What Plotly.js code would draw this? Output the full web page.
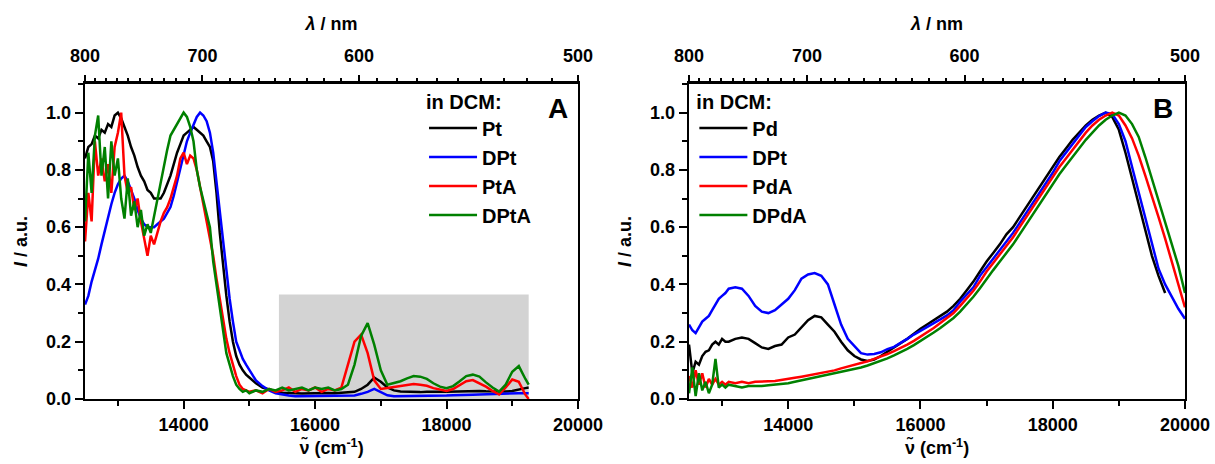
<!DOCTYPE html>
<html>
<head>
<meta charset="utf-8">
<script src="https://cdn.plot.ly/plotly-3.0.1.min.js"></script>
<style>html,body{margin:0;padding:0;background:#fff;}#chart{width:1215px;height:464px;}</style>
</head>
<body>
<div id="chart"></div>
<script>
// ---------- Panel A: wavenumber grid (cm-1) ----------
const waveA = [12500,12550,12600,12650,12700,12750,12800,12850,12900,12950,13000,
  13050,13100,13150,13200,13250,13300,13350,13400,13450,13500,
  13550,13600,13650,13700,13750,13800,13850,13900,13950,14000,
  14050,14100,14150,14200,14250,14300,14350,14400,14450,14500,
  14550,14600,14650,14700,14750,14800,14850,14900,14950,15000,
  15100,15200,15300,15400,15500,15600,15700,15800,15900,16000,
  16100,16200,16300,16400,16500,16600,16700,16800,16900,17000,
  17100,17200,17300,17400,17500,17600,17700,17800,17900,18000,
  18100,18200,18300,18400,18500,18600,18700,18800,18900,19000,
  19100,19200,19250];

const Pt_A = [0.84,0.88,0.89,0.92,0.91,0.94,0.93,0.96,0.95,0.99,1.00,
  0.98,0.95,0.92,0.88,0.85,0.81,0.78,0.76,0.73,0.72,
  0.70,0.70,0.70,0.72,0.75,0.78,0.82,0.86,0.89,0.92,
  0.93,0.94,0.95,0.94,0.93,0.92,0.90,0.88,0.83,0.72,
  0.58,0.46,0.36,0.27,0.20,0.15,0.12,0.10,0.085,0.075,
  0.055,0.04,0.032,0.026,0.022,0.02,0.02,0.019,0.02,0.02,
  0.02,0.021,0.02,0.022,0.022,0.025,0.035,0.05,0.075,0.06,
  0.04,0.03,0.026,0.025,0.024,0.024,0.025,0.024,0.025,0.025,
  0.026,0.026,0.027,0.028,0.028,0.027,0.026,0.025,0.026,0.028,
  0.034,0.038,0.04];

const DPt_A = [0.33,0.36,0.41,0.45,0.49,0.54,0.59,0.63,0.68,0.72,0.75,
  0.77,0.78,0.76,0.73,0.70,0.66,0.63,0.61,0.60,0.60,
  0.60,0.61,0.62,0.63,0.65,0.67,0.71,0.76,0.81,0.86,
  0.90,0.93,0.96,0.985,1.00,0.99,0.97,0.93,0.86,0.76,
  0.64,0.55,0.45,0.35,0.27,0.20,0.17,0.14,0.12,0.10,
  0.065,0.045,0.03,0.02,0.015,0.012,0.01,0.01,0.01,0.01,
  0.01,0.01,0.01,0.01,0.01,0.012,0.018,0.025,0.035,0.025,
  0.013,0.01,0.01,0.01,0.01,0.01,0.01,0.01,0.012,0.012,
  0.013,0.013,0.014,0.015,0.016,0.017,0.017,0.018,0.018,0.019,
  0.02,0.02,0.02];

const PtA_A = [0.55,0.72,0.62,0.90,0.78,0.84,0.76,0.82,0.72,0.88,0.93,
  1.00,0.78,0.72,0.74,0.66,0.70,0.62,0.56,0.50,0.57,
  0.54,0.58,0.62,0.65,0.67,0.70,0.74,0.78,0.84,0.86,
  0.82,0.85,0.84,0.80,0.74,0.68,0.63,0.56,0.50,0.42,
  0.35,0.28,0.21,0.16,0.12,0.08,0.05,0.035,0.03,0.025,
  0.03,0.02,0.035,0.025,0.03,0.04,0.025,0.035,0.03,0.04,
  0.025,0.035,0.03,0.04,0.12,0.20,0.225,0.16,0.065,0.035,
  0.038,0.042,0.046,0.05,0.052,0.05,0.046,0.038,0.032,0.028,
  0.035,0.048,0.062,0.066,0.055,0.043,0.028,0.016,0.04,0.068,
  0.06,0.015,0.0];

const DPtA_A = [0.62,0.86,0.72,0.92,0.99,0.78,0.88,0.70,0.90,0.78,0.84,
  0.70,0.63,0.77,0.64,0.69,0.60,0.66,0.57,0.61,0.58,
  0.64,0.70,0.75,0.81,0.87,0.92,0.94,0.96,0.975,1.00,
  0.985,0.95,0.90,0.80,0.74,0.69,0.65,0.60,0.48,0.40,
  0.33,0.25,0.16,0.12,0.08,0.05,0.035,0.025,0.03,0.02,
  0.03,0.025,0.035,0.03,0.04,0.03,0.035,0.04,0.03,0.04,
  0.035,0.04,0.03,0.035,0.05,0.12,0.22,0.265,0.19,0.10,
  0.05,0.055,0.062,0.072,0.08,0.078,0.07,0.055,0.043,0.038,
  0.045,0.062,0.08,0.085,0.078,0.058,0.04,0.026,0.05,0.095,
  0.115,0.07,0.05];

// ---------- Panel B ----------
const waveB = [12500,12550,12600,12650,12700,12750,12800,12850,12900,12950,13000,13050,13100,
  13200,13300,13400,13500,13600,13700,13800,13900,14000,
  14100,14200,14300,14400,14500,14600,14700,14800,14900,15000,
  15100,15200,15300,15400,15500,15600,15700,15800,15900,16000,
  16100,16200,16300,16400,16500,16600,16700,16800,16900,17000,
  17100,17200,17300,17400,17500,17600,17700,17800,17900,18000,
  18100,18200,18300,18400,18500,18600,18700,18800,18900,19000,
  19100,19200,19300,19400,19500,19600,19700,19800,19900,20000];

const Pd_B = [0.19,0.09,0.13,0.12,0.15,0.165,0.17,0.19,0.20,0.19,0.21,0.20,0.20,
  0.21,0.215,0.21,0.195,0.18,0.175,0.185,0.19,0.215,
  0.225,0.25,0.275,0.29,0.285,0.26,0.235,0.20,0.17,0.15,
  0.138,0.133,0.138,0.15,0.164,0.178,0.195,0.21,0.228,0.245,
  0.26,0.275,0.29,0.305,0.325,0.35,0.38,0.41,0.445,0.48,
  0.51,0.54,0.575,0.60,0.635,0.67,0.705,0.74,0.775,0.81,
  0.845,0.875,0.905,0.93,0.955,0.975,0.99,1.0,0.985,0.94,
  0.86,0.77,0.68,0.585,0.50,0.43,0.37];

const DPt_B = [0.26,0.24,0.23,0.25,0.27,0.28,0.29,0.31,0.33,0.35,0.36,0.37,0.385,
  0.39,0.385,0.36,0.325,0.305,0.30,0.31,0.33,0.35,
  0.38,0.42,0.435,0.44,0.43,0.40,0.33,0.26,0.21,0.185,
  0.16,0.155,0.157,0.163,0.174,0.182,0.195,0.21,0.225,0.238,
  0.25,0.262,0.278,0.292,0.31,0.34,0.365,0.39,0.43,0.46,
  0.49,0.52,0.55,0.58,0.615,0.65,0.685,0.72,0.755,0.79,
  0.83,0.86,0.89,0.92,0.95,0.97,0.988,1.0,0.995,0.96,
  0.90,0.81,0.72,0.625,0.535,0.455,0.40,0.355,0.315,0.28];

const PdA_B = [0.08,0.04,0.10,0.05,0.09,0.04,0.07,0.05,0.07,0.05,0.06,0.05,0.06,
  0.055,0.06,0.055,0.06,0.06,0.062,0.063,0.066,0.07,
  0.074,0.078,0.082,0.086,0.09,0.095,0.10,0.107,0.113,0.118,
  0.125,0.132,0.14,0.148,0.157,0.167,0.178,0.19,0.203,0.217,
  0.232,0.248,0.265,0.283,0.30,0.325,0.35,0.378,0.41,0.445,
  0.475,0.505,0.535,0.565,0.60,0.635,0.67,0.705,0.74,0.775,
  0.81,0.84,0.87,0.90,0.93,0.955,0.975,0.99,1.0,0.99,
  0.955,0.91,0.85,0.78,0.71,0.635,0.56,0.48,0.40,0.32];

const DPdA_B = [0.02,0.11,0.01,0.09,0.03,0.06,0.02,0.05,0.14,0.04,0.05,0.04,0.05,
  0.045,0.04,0.045,0.045,0.045,0.048,0.05,0.052,0.055,
  0.06,0.065,0.07,0.075,0.08,0.084,0.09,0.095,0.10,0.105,
  0.11,0.117,0.125,0.133,0.142,0.152,0.163,0.175,0.188,0.202,
  0.217,0.232,0.248,0.265,0.283,0.305,0.33,0.357,0.387,0.42,
  0.45,0.48,0.51,0.54,0.575,0.61,0.645,0.68,0.715,0.75,
  0.785,0.815,0.845,0.875,0.905,0.93,0.955,0.975,0.99,1.0,
  0.99,0.96,0.915,0.845,0.77,0.695,0.62,0.545,0.465,0.37];

// ---------- tick labels ----------
const nmMajor = [800,700,600,500];
const nmMinor = [790,780,770,760,750,740,730,720,710,690,680,670,660,650,640,630,620,610,590,580,570,560,550,540,530,520,510];
const wnMajor = [14000,16000,18000,20000];
const wnLabels = ['14000','16000','18000','20000'];
const yMajor = [0,0.2,0.4,0.6,0.8,1.0];
const yLabels = ['0.0','0.2','0.4','0.6','0.8','1.0'];

const namesA = ['Pt','DPt','PtA','DPtA'];
const namesB = ['Pd','DPt','PdA','DPdA'];
const colors = ['#000000','#0000ff','#ff0000','#008000'];

const FAM = 'Liberation Sans, Arial, sans-serif';
const traces = [];
[Pt_A, DPt_A, PtA_A, DPtA_A].forEach((ys,i)=>{
  traces.push({x: waveA, y: ys, type:'scatter', mode:'lines', name: namesA[i],
    line:{color:colors[i], width:2.5}, xaxis:'x', yaxis:'y', legend:'legend'});
});
[Pd_B, DPt_B, PdA_B, DPdA_B].forEach((ys,i)=>{
  traces.push({x: waveB, y: ys, type:'scatter', mode:'lines', name: namesB[i],
    line:{color:colors[i], width:2.5}, xaxis:'x2', yaxis:'y2', legend:'legend2'});
});
// invisible carriers so that the top wavelength axes get drawn
traces.push({x: waveA, y: Pt_A, type:'scatter', mode:'lines', xaxis:'x3', yaxis:'y',
  showlegend:false, hoverinfo:'skip', opacity:0, line:{width:0}});
traces.push({x: waveB, y: Pd_B, type:'scatter', mode:'lines', xaxis:'x4', yaxis:'y2',
  showlegend:false, hoverinfo:'skip', opacity:0, line:{width:0}});

const tickFont = {family:FAM, size:18, color:'#000', weight:'bold'};
const titleFont = {family:FAM, size:18, color:'#000', weight:'bold'};

function bottomAxis(dom, yanchor){
  return {domain:dom, anchor:yanchor, range:[12500,20000], showgrid:false, zeroline:false,
    showline:true, linewidth:2.5, linecolor:'#000', mirror:true,
    tickmode:'array', tickvals:wnMajor, ticktext:wnLabels, ticks:'outside', ticklen:8, tickwidth:2, tickcolor:'#000',
    tickfont:tickFont, ticklabelstandoff:0, automargin:false,
    minor:{dtick:1000, tick0:13000, ticks:'outside', ticklen:5, tickwidth:2, tickcolor:'#000', showgrid:false},
    title:{text:'ν̃ (cm<sup>-1</sup>)', font:titleFont, standoff:8}};
}
function topAxis(over, yanchor){
  return {overlaying:over, anchor:yanchor, side:'top', range:[12500,20000], showgrid:false, zeroline:false,
    showline:false, tickmode:'array', tickvals:nmMajor.map(l=>1e7/l), ticktext:nmMajor.map(String),
    ticks:'outside', ticklen:8, tickwidth:2, tickcolor:'#000', tickfont:tickFont, ticklabelstandoff:6,
    automargin:false,
    minor:{tickmode:'array', tickvals:nmMinor.map(l=>1e7/l), ticks:'outside', ticklen:5, tickwidth:2, tickcolor:'#000', showgrid:false},
    title:{text:'<i>λ</i> / nm', font:titleFont, standoff:10}};
}
function leftAxis(xanchor){
  return {domain:[0.1401,0.8190], anchor:xanchor, range:[0,1.1], showgrid:false, zeroline:false,
    showline:true, linewidth:2.5, linecolor:'#000', mirror:true,
    tickmode:'array', tickvals:yMajor, ticktext:yLabels, ticks:'outside', ticklen:8, tickwidth:2, tickcolor:'#000',
    tickfont:tickFont, ticklabelstandoff:0, automargin:false,
    minor:{dtick:0.1, tick0:0, ticks:'outside', ticklen:5, tickwidth:2, tickcolor:'#000', showgrid:false},
    title:{text:'<i>I</i> / a.u.', font:titleFont, standoff:14}};
}

const legFont = {family:FAM, size:20, color:'#000', weight:'bold'};
const layout = {
  width:1215, height:464, margin:{l:0,r:0,t:0,b:0},
  paper_bgcolor:'#ffffff', plot_bgcolor:'#ffffff',
  font:{family:FAM, color:'#000'},
  xaxis: bottomAxis([0.0700,0.4757],'y'),
  xaxis2: bottomAxis([0.5671,0.9753],'y2'),
  xaxis3: topAxis('x','y'),
  xaxis4: topAxis('x2','y2'),
  yaxis: leftAxis('x'),
  yaxis2: leftAxis('x2'),
  legend:{x:0.349, y:0.822, xanchor:'left', yanchor:'top', bgcolor:'rgba(0,0,0,0)', borderwidth:0,
    font:legFont, title:{text:'in DCM:', font:legFont}, tracegroupgap:0, itemwidth:48},
  legend2:{x:0.5715, y:0.822, xanchor:'left', yanchor:'top', bgcolor:'rgba(0,0,0,0)', borderwidth:0,
    font:legFont, title:{text:'in DCM:', font:legFont}, tracegroupgap:0, itemwidth:48},
  shapes:[{type:'rect', xref:'x', yref:'y', x0:15450, x1:19250, y0:0, y1:0.365,
    fillcolor:'#d3d3d3', line:{width:0}, layer:'below'}],
  annotations:[
    {xref:'paper', yref:'paper', x:0.459, y:0.767, text:'A', showarrow:false, xanchor:'center', yanchor:'middle',
     font:{family:FAM, size:28, color:'#000', weight:'bold'}},
    {xref:'paper', yref:'paper', x:0.957, y:0.767, text:'B', showarrow:false, xanchor:'center', yanchor:'middle',
     font:{family:FAM, size:28, color:'#000', weight:'bold'}}
  ],
  showlegend:true
};

Plotly.newPlot('chart', traces, layout, {staticPlot:true, displayModeBar:false});
</script>
</body>
</html>
